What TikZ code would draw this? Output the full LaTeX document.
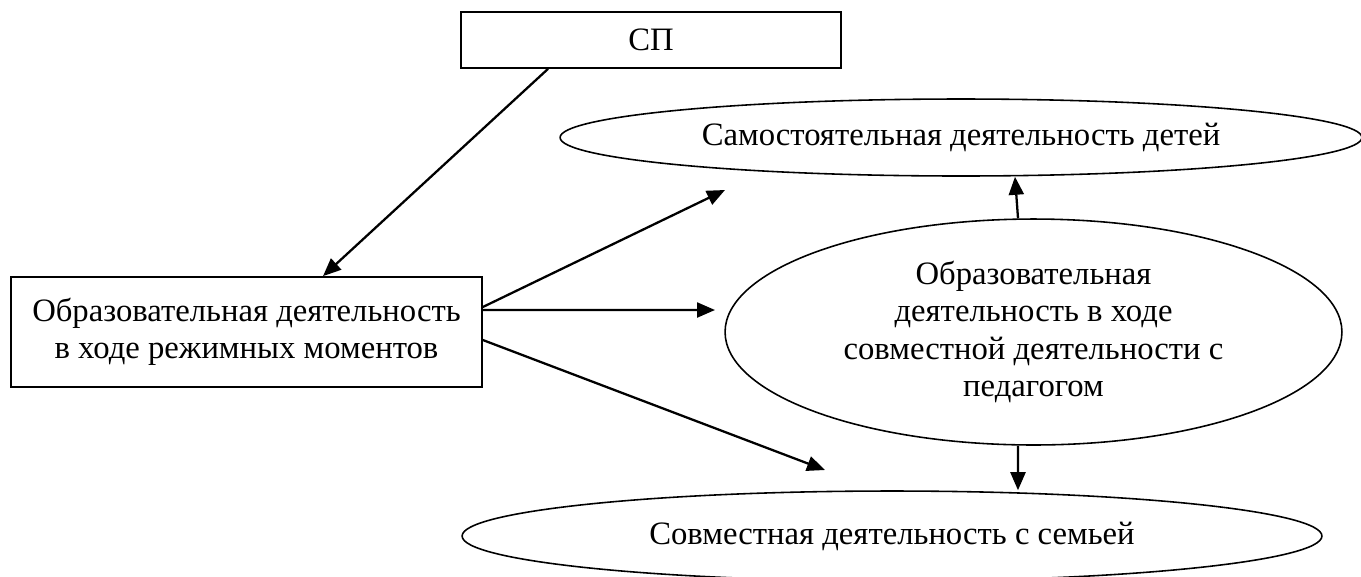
\documentclass[tikz,border=0pt]{standalone}
\usepackage{fontspec}
\setmainfont{Liberation Serif}
\usetikzlibrary{arrows.meta,shapes.geometric}

\begin{document}
\begin{tikzpicture}[x=0.02cm,y=-0.02cm,
box/.style={draw,line width=1pt,inner sep=0pt,align=center,font=\fontsize{18.6}{21.3}\selectfont},
oval/.style={ellipse,draw,line width=0.9pt,inner sep=0pt,align=center,font=\fontsize{18.6}{21.3}\selectfont},
arr/.style={line width=1.3pt,-{Triangle[length=0.36cm,width=0.3cm]}}]
\useasboundingbox(0,0)rectangle(1361,576);
\node[box,minimum width=7.6cm,minimum height=1.12cm](sp)at(651,40){СП};
\node[box,minimum width=9.42cm,minimum height=2.2cm](mode)at(246.5,332)
{Образовательная деятельность\\в ходе режимных моментов};
\node[oval,minimum width=16.04cm,minimum height=1.54cm](self)at(961,137.5)
{Самостоятельная деятельность детей};
\node[oval,minimum width=12.34cm,minimum height=4.52cm](joint)at(1033.5,332)
{Образовательная\\деятельность в ходе\\совместной деятельности с\\педагогом};
\node[oval,minimum width=17.2cm,minimum height=1.8cm](family)at(892,536)
{Совместная деятельность с семьей};
\coordinate(toself)at(725,190);
\coordinate(tojoint)at(715,310);
\coordinate(tofamily)at(825,470);
\draw[arr]([xshift=-2.06cm]sp.south)--([xshift=1.53cm]mode.north);
\draw[arr]([yshift=0.5cm]mode.east)--(toself);
\draw[arr]([yshift=0.44cm]mode.east)--(tojoint);
\draw[arr]([yshift=-0.16cm]mode.east)--(tofamily);
\draw[arr]([xshift=-0.31cm]joint.north)--([xshift=1.08cm]self.south);
\draw[arr]([xshift=-0.31cm]joint.south)--([xshift=2.52cm]family.north);
\end{tikzpicture}
\end{document}
